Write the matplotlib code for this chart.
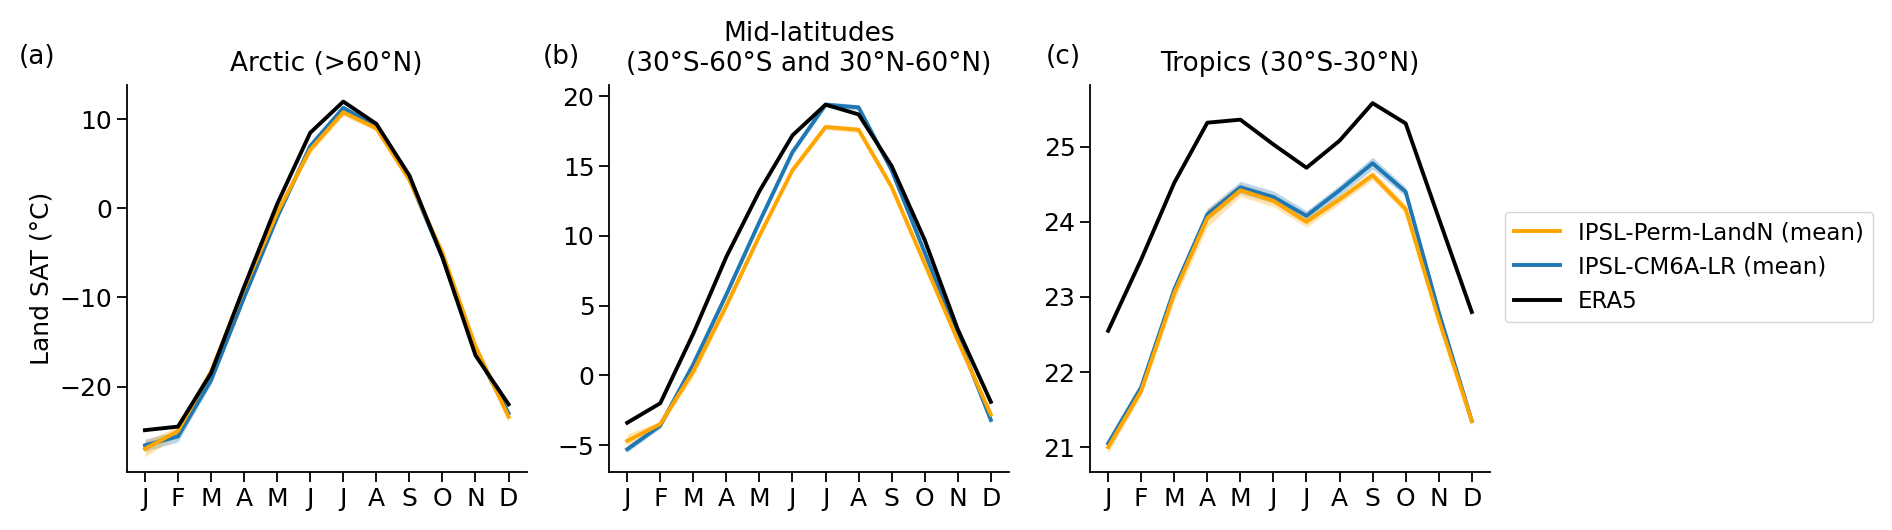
import matplotlib
matplotlib.use("Agg")
import matplotlib.pyplot as plt
import numpy as np

months = ["J", "F", "M", "A", "M", "J", "J", "A", "S", "O", "N", "D"]

# (a) Arctic
arctic_era5 = [-24.9, -24.5, -18.5, -8.8, 0.5, 8.5, 12.0, 9.5, 3.7, -5.5, -16.5, -22.0]
arctic_perm = [-27.0, -25.0, -18.3, -9.0, -0.5, 6.6, 10.8, 9.0, 3.2, -5.0, -15.5, -23.4]
arctic_cm6a = [-26.6, -25.6, -19.3, -10.0, -1.0, 7.0, 11.3, 9.2, 3.3, -5.5, -16.0, -23.0]
arctic_perm_spread = [0.9, 0.5, 0.6, 0.4, 0.4, 0.4, 0.4, 0.3, 0.3, 0.5, 0.5, 0.6]
arctic_cm6a_spread = [0.7, 0.6, 0.4, 0.3, 0.3, 0.3, 0.3, 0.3, 0.3, 0.3, 0.3, 0.4]

# (b) Mid-latitudes
mid_era5 = [-3.4, -2.0, 3.0, 8.5, 13.2, 17.2, 19.4, 18.7, 15.0, 9.7, 3.3, -1.9]
mid_perm = [-4.7, -3.5, 0.3, 5.0, 10.0, 14.7, 17.8, 17.6, 13.5, 8.0, 2.5, -2.8]
mid_cm6a = [-5.3, -3.6, 0.8, 5.8, 11.0, 16.0, 19.4, 19.2, 14.7, 8.8, 2.8, -3.2]
mid_perm_spread = [0.5, 0.2, 0.4, 0.3, 0.2, 0.2, 0.2, 0.2, 0.2, 0.2, 0.2, 0.3]
mid_cm6a_spread = [0.2, 0.2, 0.2, 0.2, 0.2, 0.2, 0.2, 0.2, 0.2, 0.2, 0.2, 0.2]

# (c) Tropics
trop_era5 = [22.55, 23.5, 24.52, 25.32, 25.36, 25.03, 24.72, 25.08, 25.58, 25.31, 24.05, 22.8]
trop_perm = [21.0, 21.75, 23.05, 24.05, 24.42, 24.28, 24.0, 24.3, 24.62, 24.17, 22.7, 21.35]
trop_cm6a = [21.05, 21.8, 23.1, 24.1, 24.46, 24.33, 24.08, 24.42, 24.78, 24.4, 22.8, 21.35]
trop_perm_spread = [0.08, 0.06, 0.1, 0.12, 0.08, 0.08, 0.07, 0.06, 0.06, 0.06, 0.06, 0.05]
trop_cm6a_spread = [0.05, 0.06, 0.06, 0.08, 0.08, 0.08, 0.07, 0.07, 0.08, 0.06, 0.05, 0.05]

panels = [
    ("(a)", "Arctic (>60°N)", arctic_era5, arctic_perm, arctic_cm6a,
     arctic_perm_spread, arctic_cm6a_spread, (-29.6, 13.85), [-20, -10, 0, 10], -0.27),
    ("(b)", "Mid-latitudes\n(30°S-60°S and 30°N-60°N)", mid_era5, mid_perm, mid_cm6a,
     mid_perm_spread, mid_cm6a_spread, (-6.93, 20.8), [-5, 0, 5, 10, 15, 20], -0.165),
    ("(c)", "Tropics (30°S-30°N)", trop_era5, trop_perm, trop_cm6a,
     trop_perm_spread, trop_cm6a_spread, (20.67, 25.82), [21, 22, 23, 24, 25], -0.11),
]

C_PERM = "#FFA500"
C_CM6A = "#1f77b4"

fig = plt.figure(figsize=(18.92, 5.3), dpi=100)
lefts = [0.067, 0.3219, 0.5761]
x = np.arange(12)

for left, (lab, title, era5, perm, cm6a, ps, cs, ylim, yt, labx) in zip(lefts, panels):
    ax = fig.add_axes([left, 0.1094, 0.2114, 0.730])
    perm = np.array(perm)
    cm6a = np.array(cm6a)
    ax.fill_between(x, cm6a - np.array(cs), cm6a + np.array(cs), color=C_CM6A, alpha=0.3, lw=0)
    ax.fill_between(x, perm - np.array(ps), perm + np.array(ps), color=C_PERM, alpha=0.3, lw=0)
    ax.plot(x, cm6a, color=C_CM6A, lw=2.8, label="IPSL-CM6A-LR (mean)", zorder=3)
    ax.plot(x, perm, color=C_PERM, lw=2.8, label="IPSL-Perm-LandN (mean)", zorder=4)
    ax.plot(x, era5, color="black", lw=2.8, label="ERA5", zorder=5)

    ax.set_xlim(-0.55, 11.55)
    ax.set_ylim(*ylim)
    ax.set_yticks(yt)
    ax.set_xticks(x)
    ax.set_xticklabels(months)
    ax.tick_params(labelsize=18, length=7, width=1.3)
    for s in ["top", "right"]:
        ax.spines[s].set_visible(False)
    for s in ["left", "bottom"]:
        ax.spines[s].set_linewidth(1.3)
    ax.set_title(title, fontsize=19, pad=10)
    ax.text(labx, 1.072, lab, transform=ax.transAxes, fontsize=19, va="center", ha="left")
    if lab == "(a)":
        ax.set_ylabel("Land SAT (°C)", fontsize=18)
    if lab == "(c)":
        h, l = ax.get_legend_handles_labels()
        order = [1, 0, 2]
        ax.legend([h[i] for i in order], [l[i] for i in order], loc="center left",
                  bbox_to_anchor=(1.02, 0.53), fontsize=16.5, handlelength=2.0,
                  borderaxespad=0.3)

fig.savefig("out.png", dpi=100)
